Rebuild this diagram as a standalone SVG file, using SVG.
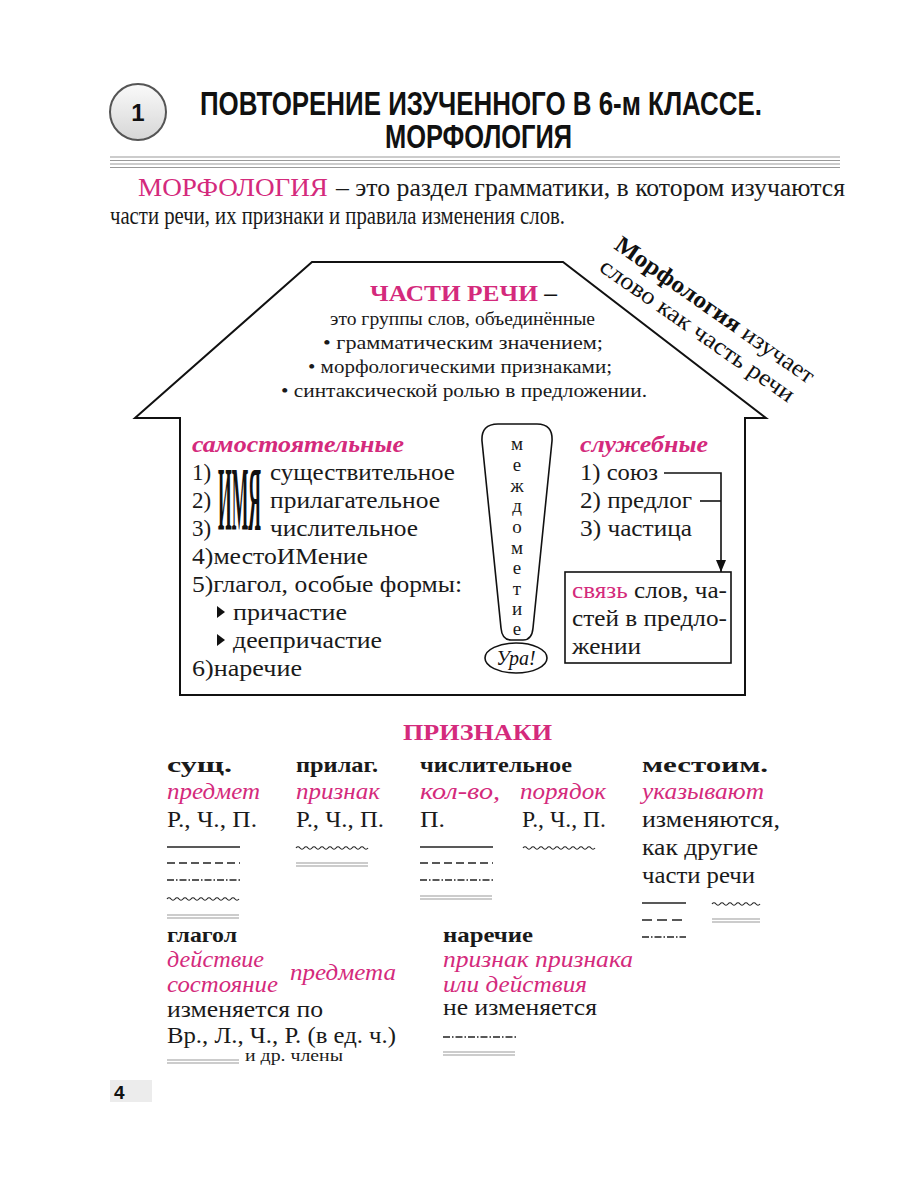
<svg xmlns="http://www.w3.org/2000/svg" width="900" height="1200" viewBox="0 0 900 1200">
<style>
.t{font-family:"Liberation Serif",serif;font-size:23px;font-weight:normal;fill:#1a1a1a}
.b{font-family:"Liberation Serif",serif;font-size:22px;font-weight:bold;fill:#1a1a1a}
.p{font-family:"Liberation Serif",serif;font-size:23px;font-style:italic;fill:#d42a7c}
.pb{font-family:"Liberation Serif",serif;font-size:23px;font-style:italic;font-weight:bold;fill:#d42a7c}
.h{font-family:"Liberation Sans",sans-serif;font-weight:bold;fill:#111}
.s{font-family:"Liberation Serif",serif;font-size:18px;fill:#1a1a1a}
.solid{stroke:#222;stroke-width:1.6;fill:none}
.dash{stroke:#222;stroke-width:1.6;stroke-dasharray:8,4;fill:none}
.dd{stroke:#222;stroke-width:1.4;stroke-dasharray:7,2,1.5,2;fill:none}
.dbl{stroke:#999;stroke-width:1;fill:none}
.wv{stroke:#222;stroke-width:1.2;fill:none}
.edge{stroke:#111;stroke-width:2;fill:none}
</style>
<defs>
<linearGradient id="cg" x1="0" y1="0" x2="0" y2="1"><stop offset="0" stop-color="#fafafa"/><stop offset="1" stop-color="#d6d6d6"/></linearGradient>
<path id="w72" d="M0 0 q2 -2.5 4 0 t4 0 t4 0 t4 0 t4 0 t4 0 t4 0 t4 0 t4 0 t4 0 t4 0 t4 0 t4 0 t4 0 t4 0 t4 0 t4 0 t4 0"/>
<path id="w48" d="M0 0 q2 -2.5 4 0 t4 0 t4 0 t4 0 t4 0 t4 0 t4 0 t4 0 t4 0 t4 0 t4 0 t4 0"/>
<g id="d72"><line x1="0" y1="0" x2="72" y2="0"/><line x1="0" y1="3" x2="72" y2="3"/></g>
<g id="d48"><line x1="0" y1="0" x2="48" y2="0"/><line x1="0" y1="3" x2="48" y2="3"/></g>
<marker id="arr" markerWidth="12" markerHeight="10" refX="12" refY="5" orient="auto" markerUnits="userSpaceOnUse"><path d="M0 0 L12 5 L0 10 Z" fill="#111"/></marker>
</defs>

<g id="header">
<circle cx="138" cy="112" r="28" fill="url(#cg)" stroke="#555" stroke-width="2"/>
<text x="138" y="121" class="h" font-size="24" text-anchor="middle">1</text>
<text x="200" y="115" class="h" font-size="34" textLength="562" lengthAdjust="spacingAndGlyphs">ПОВТОРЕНИЕ ИЗУЧЕННОГО В 6-м КЛАССЕ.</text>
<text x="385" y="148" class="h" font-size="34" textLength="187" lengthAdjust="spacingAndGlyphs">МОРФОЛОГИЯ</text>
<g stroke="#999" stroke-width="1.2">
<line x1="110" y1="157" x2="840" y2="157"/><line x1="110" y1="160.5" x2="840" y2="160.5"/><line x1="110" y1="164" x2="840" y2="164"/><line x1="110" y1="167.5" x2="840" y2="167.5"/>
</g>
</g>

<g id="definition">
<text x="138" y="196" class="t" style="font-size:25px;fill:#d42a7c" textLength="190" lengthAdjust="spacingAndGlyphs">МОРФОЛОГИЯ</text>
<text x="336" y="196" class="t" style="font-size:25px" textLength="509" lengthAdjust="spacingAndGlyphs">– это раздел грамматики, в котором изучаются</text>
<text x="110" y="224" class="t" style="font-size:25px" textLength="455" lengthAdjust="spacingAndGlyphs">части речи, их признаки и правила изменения слов.</text>
</g>

<g id="house">
<polygon class="edge" points="180,695 180,418 135,418 312,262 563,262 766,418 745,418 745,695"/>
</g>

<g id="roof-text">
<text x="370" y="301" textLength="187" lengthAdjust="spacingAndGlyphs" style="font-family:'Liberation Serif',serif;font-size:24px;font-weight:bold"><tspan fill="#d42a7c">ЧАСТИ РЕЧИ</tspan><tspan fill="#111"> –</tspan></text>
<text x="330" y="325" class="s" textLength="265" lengthAdjust="spacingAndGlyphs">это группы слов, объединённые</text>
<text x="323" y="349" class="s" textLength="280" lengthAdjust="spacingAndGlyphs">• грамматическим значением;</text>
<text x="308" y="373" class="s" textLength="304" lengthAdjust="spacingAndGlyphs">• морфологическими признаками;</text>
<text x="281" y="397" class="s" textLength="366" lengthAdjust="spacingAndGlyphs">• синтаксической ролью в предложении.</text>
</g>

<g id="side-note">
<text transform="translate(613,248) rotate(35)" style="font-family:'Liberation Serif',serif;font-size:24px;fill:#111" textLength="238" lengthAdjust="spacingAndGlyphs"><tspan font-weight="bold">Морфология</tspan> изучает</text>
<text transform="translate(598,270) rotate(35)" style="font-family:'Liberation Serif',serif;font-size:24px;fill:#111" textLength="232" lengthAdjust="spacingAndGlyphs">слово как часть речи</text>
</g>

<g id="independent">
<text x="192" y="452" class="pb" textLength="212" lengthAdjust="spacingAndGlyphs">самостоятельные</text>
<text x="192" y="480" class="t">1)</text>
<text x="192" y="508" class="t">2)</text>
<text x="192" y="536" class="t">3)</text>
<text transform="translate(218,530) scale(1,3.8)" style="font-family:'Liberation Serif',serif;font-size:24px;font-weight:bold;fill:#111" textLength="43" lengthAdjust="spacingAndGlyphs">ИМЯ</text>
<text x="270" y="480" class="t" textLength="185" lengthAdjust="spacingAndGlyphs">существительное</text>
<text x="270" y="508" class="t" textLength="170" lengthAdjust="spacingAndGlyphs">прилагательное</text>
<text x="270" y="536" class="t" textLength="148" lengthAdjust="spacingAndGlyphs">числительное</text>
<text x="192" y="564" class="t" textLength="176" lengthAdjust="spacingAndGlyphs">4)местоИМение</text>
<text x="192" y="592" class="t" textLength="270" lengthAdjust="spacingAndGlyphs">5)глагол, особые формы:</text>
<path d="M217 606 L225 612 L217 618 Z" fill="#111"/>
<text x="233" y="620" class="t" textLength="114" lengthAdjust="spacingAndGlyphs">причастие</text>
<path d="M217 634 L225 640 L217 646 Z" fill="#111"/>
<text x="233" y="648" class="t" textLength="149" lengthAdjust="spacingAndGlyphs">деепричастие</text>
<text x="192" y="676" class="t" textLength="110" lengthAdjust="spacingAndGlyphs">6)наречие</text>
</g>

<g id="interjection">
<path class="edge" style="stroke-width:1.6" d="M498 424 L537 424 Q553 424 552 441 L533 628 Q532 640 523 640 L511 640 Q502 640 501 628 L482 441 Q481 424 498 424 Z"/>
<g class="s" text-anchor="middle" style="font-size:19px">
<text x="517" y="450">м</text><text x="517" y="471">е</text><text x="517" y="492">ж</text><text x="517" y="512">д</text><text x="517" y="533">о</text><text x="517" y="554">м</text><text x="517" y="574">е</text><text x="517" y="595">т</text><text x="517" y="615">и</text><text x="517" y="635">е</text>
</g>
<ellipse cx="516" cy="658" rx="31" ry="15" class="edge" style="stroke-width:1.6"/>
<text x="516" y="665" text-anchor="middle" style="font-family:'Liberation Serif',serif;font-size:20px;font-style:italic;fill:#111">Ура!</text>
</g>

<g id="auxiliary">
<text x="580" y="452" class="pb" textLength="128" lengthAdjust="spacingAndGlyphs">служебные</text>
<text x="580" y="480" class="t" textLength="78" lengthAdjust="spacingAndGlyphs">1) союз</text>
<text x="580" y="508" class="t" textLength="112" lengthAdjust="spacingAndGlyphs">2) предлог</text>
<text x="580" y="536" class="t" textLength="112" lengthAdjust="spacingAndGlyphs">3) частица</text>
</g>

<g id="connectors">
<polyline class="edge" style="stroke-width:1.6" points="664,473 721,473 721,572" marker-end="url(#arr)"/>
<line class="edge" style="stroke-width:1.6" x1="700" y1="501" x2="721" y2="501"/>
</g>

<g id="link-box">
<rect x="565" y="572" width="166" height="91" fill="none" stroke="#111" stroke-width="1.6"/>
<text x="572" y="598" class="t" textLength="155" lengthAdjust="spacingAndGlyphs"><tspan fill="#d42a7c">связь</tspan> слов, ча-</text>
<text x="572" y="626" class="t" textLength="155" lengthAdjust="spacingAndGlyphs">стей в предло-</text>
<text x="572" y="654" class="t" textLength="69" lengthAdjust="spacingAndGlyphs">жении</text>
</g>

<g id="features">
<text x="403" y="740" textLength="149" lengthAdjust="spacingAndGlyphs" style="font-family:'Liberation Serif',serif;font-size:23px;font-weight:bold;fill:#d42a7c">ПРИЗНАКИ</text>

<g id="noun">
<text x="167" y="772" class="b" textLength="65" lengthAdjust="spacingAndGlyphs">сущ.</text>
<text x="167" y="799" class="p" textLength="93" lengthAdjust="spacingAndGlyphs">предмет</text>
<text x="167" y="827" class="t" textLength="90" lengthAdjust="spacingAndGlyphs">Р., Ч., П.</text>
<line class="solid" x1="167" y1="847" x2="240" y2="847"/>
<line class="dash" x1="167" y1="863" x2="240" y2="863"/>
<line class="dd" x1="167" y1="880" x2="240" y2="880"/>
<use href="#w72" class="wv" x="167" y="899"/>
<use href="#d72" class="dbl" x="167" y="915"/>
</g>

<g id="adj">
<text x="296" y="772" class="b" textLength="82" lengthAdjust="spacingAndGlyphs">прилаг.</text>
<text x="296" y="799" class="p" textLength="84" lengthAdjust="spacingAndGlyphs">признак</text>
<text x="296" y="827" class="t" textLength="88" lengthAdjust="spacingAndGlyphs">Р., Ч., П.</text>
<use href="#w72" class="wv" x="296" y="848"/>
<use href="#d72" class="dbl" x="296" y="863"/>
</g>

<g id="num">
<text x="420" y="772" class="b" textLength="152" lengthAdjust="spacingAndGlyphs">числительное</text>
<text x="420" y="799" class="p" textLength="80" lengthAdjust="spacingAndGlyphs">кол-во,</text>
<text x="520" y="799" class="p" textLength="86" lengthAdjust="spacingAndGlyphs">порядок</text>
<text x="420" y="827" class="t" textLength="25" lengthAdjust="spacingAndGlyphs">П.</text>
<text x="522" y="827" class="t" textLength="84" lengthAdjust="spacingAndGlyphs">Р., Ч., П.</text>
<line class="solid" x1="420" y1="847" x2="493" y2="847"/>
<line class="dash" x1="420" y1="863" x2="493" y2="863"/>
<line class="dd" x1="420" y1="880" x2="493" y2="880"/>
<use href="#d72" class="dbl" x="420" y="896"/>
<use href="#w72" class="wv" x="523" y="848"/>
</g>

<g id="pron">
<text x="642" y="772" class="b" textLength="126" lengthAdjust="spacingAndGlyphs">местоим.</text>
<text x="642" y="799" class="p" textLength="122" lengthAdjust="spacingAndGlyphs">указывают</text>
<text x="642" y="827" class="t" textLength="138" lengthAdjust="spacingAndGlyphs">изменяются,</text>
<text x="642" y="855" class="t" textLength="116" lengthAdjust="spacingAndGlyphs">как другие</text>
<text x="642" y="883" class="t" textLength="113" lengthAdjust="spacingAndGlyphs">части речи</text>
<line class="solid" x1="642" y1="903" x2="686" y2="903"/>
<line class="dash" x1="642" y1="920" x2="686" y2="920" style="stroke-dasharray:10,5"/>
<line class="dd" x1="642" y1="937" x2="686" y2="937"/>
<use href="#w48" class="wv" x="712" y="904"/>
<use href="#d48" class="dbl" x="712" y="919"/>
</g>

<g id="verb">
<text x="167" y="942" class="b" textLength="70" lengthAdjust="spacingAndGlyphs">глагол</text>
<text x="167" y="967" class="p" textLength="97" lengthAdjust="spacingAndGlyphs">действие</text>
<text x="167" y="992" class="p" textLength="111" lengthAdjust="spacingAndGlyphs">состояние</text>
<text x="290" y="980" class="p" textLength="106" lengthAdjust="spacingAndGlyphs">предмета</text>
<text x="167" y="1017" class="t" textLength="156" lengthAdjust="spacingAndGlyphs">изменяется по</text>
<text x="167" y="1043" class="t" textLength="229" lengthAdjust="spacingAndGlyphs">Вр., Л., Ч., Р. (в ед. ч.)</text>
<use href="#d72" class="dbl" x="167" y="1060"/>
<text x="245" y="1061" class="s" style="font-size:16px" textLength="98" lengthAdjust="spacingAndGlyphs">и др. члены</text>
</g>

<g id="adverb">
<text x="443" y="942" class="b" textLength="90" lengthAdjust="spacingAndGlyphs">наречие</text>
<text x="443" y="967" class="p" textLength="190" lengthAdjust="spacingAndGlyphs">признак признака</text>
<text x="443" y="992" class="p" textLength="144" lengthAdjust="spacingAndGlyphs">или действия</text>
<text x="443" y="1015" class="t" textLength="154" lengthAdjust="spacingAndGlyphs">не изменяется</text>
<line class="dd" x1="443" y1="1037" x2="516" y2="1037"/>
<use href="#d72" class="dbl" x="443" y="1052"/>
</g>
</g>

<g id="page">
<rect x="110" y="1080" width="42" height="22" fill="#ececec"/>
<text x="114" y="1099" class="h" font-size="19">4</text>
</g>
</svg>
